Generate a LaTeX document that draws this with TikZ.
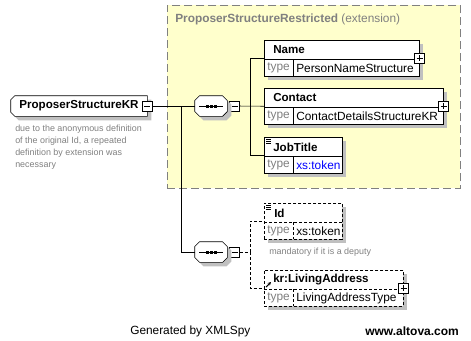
\documentclass[tikz,border=0pt]{standalone}
\usepackage{fontspec}
\setmainfont{Liberation Sans}
\usetikzlibrary{positioning, arrows.meta, shadows, backgrounds}
\definecolor{xsyellow}{HTML}{FFFFCC}
\definecolor{xsgray}{HTML}{808080}
\definecolor{xsshadow}{HTML}{C0C0C0}
\definecolor{xsblue}{HTML}{0000FF}

\begin{document}
\begin{tikzpicture}[
  x=0.75pt, y=-0.75pt,
  shade/.style={drop shadow={shadow xshift=3pt, shadow yshift=-3pt, fill=xsshadow, opacity=1}},
  elem/.style={draw, fill=white, anchor=north west, inner sep=0pt, minimum height=27pt, shade},
  optelem/.style={elem, dash pattern=on 2.25pt off 1.5pt},
  ename/.style={anchor=west, inner sep=0pt, font=\bfseries\fontsize{8.7}{10}\selectfont},
  tkey/.style={anchor=west, inner sep=0pt, text=xsgray, font=\fontsize{8.9}{10}\selectfont},
  tval/.style={anchor=west, inner sep=0pt, font=\fontsize{8.9}{10}\selectfont},
  note/.style={anchor=north west, inner sep=0pt, align=left, text=xsgray, font=\fontsize{6.7}{9}\selectfont},
  minusbox/.style={draw, fill=white, minimum size=7.5pt, inner sep=0pt, path picture={
      \draw ([xshift=1.5pt]path picture bounding box.west) -- ([xshift=-1.5pt]path picture bounding box.east);}},
  plusbox/.style={draw, fill=white, minimum size=7.5pt, inner sep=0pt, path picture={
      \draw ([xshift=1.5pt]path picture bounding box.west) -- ([xshift=-1.5pt]path picture bounding box.east);
      \draw ([yshift=-1.5pt]path picture bounding box.north) -- ([yshift=1.5pt]path picture bounding box.south);}},
  seq/.style={minimum width=24pt, minimum height=15pt, inner sep=0pt},
  >=Stealth
]
  \useasboundingbox (0,0) rectangle (471,340);

  % Extension area
  \node[draw=xsgray, dash pattern=on 6pt off 3pt, fill=xsyellow, anchor=north west, minimum width=219.75pt, minimum height=137.25pt] (ext) at (167,5) {};
  \node[anchor=west, inner sep=0pt, text=xsgray, font=\fontsize{8.9}{10}\selectfont] (title) at (175,19) {\textbf{ProposerStructureRestricted} (extension)};

  % Root element
  \node[minimum width=102pt, minimum height=15pt, inner sep=0pt, font=\bfseries\fontsize{8.7}{10}\selectfont] (root) at (79,106) {ProposerStructureKR};
  \begin{scope}[on background layer]
    \filldraw[fill=white, shade] ([xshift=3pt]root.north west) -- (root.north east) -- (root.south east)
      -- ([xshift=3pt]root.south west) -- ([yshift=3pt]root.south west) -- ([yshift=-3pt]root.north west) -- cycle;
  \end{scope}
  \node[minusbox] (m0) at (root.east) {};
  \node[note] (desc) at (15,125) {due to the anonymous definition\\of the original Id, a repeated\\definition by extension was\\necessary};

  % Sequences
  \node[seq] (seq1) at (211,106) {};
  \node[minusbox, right=1.5pt of seq1] (m1) {};
  \node[seq] (seq2) at (211,252) {};
  \node[minusbox, right=1.5pt of seq2] (m2) {};
  \foreach \s in {seq1, seq2} {
    \filldraw[fill=white, shade] ([xshift=3.5pt]\s.north west) -- ([xshift=-3.5pt]\s.north east)
      -- ([yshift=-3.5pt]\s.north east) -- ([yshift=3.5pt]\s.south east) -- ([xshift=-3.5pt]\s.south east)
      -- ([xshift=3.5pt]\s.south west) -- ([yshift=3.5pt]\s.south west) -- ([yshift=-3.5pt]\s.north west) -- cycle;
    \draw ([xshift=-9pt]\s.center) -- ([xshift=9pt]\s.center);
    \foreach \dx in {-4, 0, 4}
      \fill ([shift={(\dx-1.5,-1.5)}]\s.center) rectangle ++(3,3);
  }

  % Elements
  \node[elem, minimum width=116.25pt] (name) at (264,40) {};
  \draw (264,59) -- (419,59) (293,59) -- (293,76);
  \node[ename] (nameL) at (273,50) {Name};
  \node[tkey] (nameK) at (267,68) {type};
  \node[tval] (nameV) at (296,68) {PersonNameStructure};
  \node[plusbox] (p1) at (name.east) {};

  \node[elem, minimum width=134.25pt] (contact) at (264,88) {};
  \draw (264,107) -- (443,107) (293,107) -- (293,124);
  \node[ename] (contactL) at (273,98) {Contact};
  \node[tkey] (contactK) at (267,116) {type};
  \node[tval] (contactV) at (296,116) {ContactDetailsStructureKR};
  \node[plusbox] (p2) at (contact.east) {};

  \node[elem, minimum width=58.5pt] (job) at (264,137) {};
  \draw (264,156) -- (342,156) (293,156) -- (293,173);
  \node[ename] (jobL) at (273,147) {JobTitle};
  \node[tkey] (jobK) at (267,165) {type};
  \node[tval, text=xsblue] (jobV) at (296,165) {xs:token};

  \node[optelem, minimum width=58.5pt] (id) at (264,203) {};
  \draw[dash pattern=on 2.25pt off 1.5pt] (264,222) -- (342,222) (293,222) -- (293,239);
  \node[ename] (idL) at (274,213) {Id};
  \node[tkey] (idK) at (267,231) {type};
  \node[tval] (idV) at (296,231) {xs:token};
  \node[note, anchor=west] (idnote) at (269,252) {mandatory if it is a deputy};

  \node[optelem, minimum width=104.25pt] (liv) at (264,270) {};
  \draw[dash pattern=on 2.25pt off 1.5pt] (264,289) -- (403,289) (293,289) -- (293,306);
  \node[ename] (livL) at (273,280) {kr:LivingAddress};
  \node[tkey] (livK) at (267,298) {type};
  \node[tval] (livV) at (296,298) {LivingAddressType};
  \node[plusbox] (p3) at (liv.east) {};

  % Icons
  \foreach \e in {job, id}
    \foreach \dy in {2, 4, 6}
      \draw[line width=0.5pt] ([shift={(2,\dy)}]\e.north west) -- ++(5,0);
  \draw[line width=0.8pt, -{Stealth[length=2.5pt, width=2.5pt]}] (266,287) -- (271,282);

  % Connectors
  \draw (m0.east) -- (seq1.west);
  \coordinate (j0) at (181,106);
  \draw (j0) |- (seq2.west);
  \draw (m1.east) -- (contact.west);
  \coordinate (j1) at (250,106);
  \draw (j1) |- (name.west);
  \draw (j1) |- (job.west);
  \draw[dash pattern=on 2.25pt off 1.5pt] (m2.east) -- (250,252) coordinate (j2);
  \draw[dash pattern=on 2.25pt off 1.5pt] (j2) |- (id.west);
  \draw[dash pattern=on 2.25pt off 1.5pt] (j2) |- (liv.west);

  % Footer
  \node[anchor=west, inner sep=0pt, font=\fontsize{8.9}{10}\selectfont] (gen) at (130,331) {Generated by XMLSpy};
  \node[anchor=west, inner sep=0pt, font=\bfseries\fontsize{9}{10}\selectfont] (web) at (365,331) {www.altova.com};
\end{tikzpicture}
\end{document}
